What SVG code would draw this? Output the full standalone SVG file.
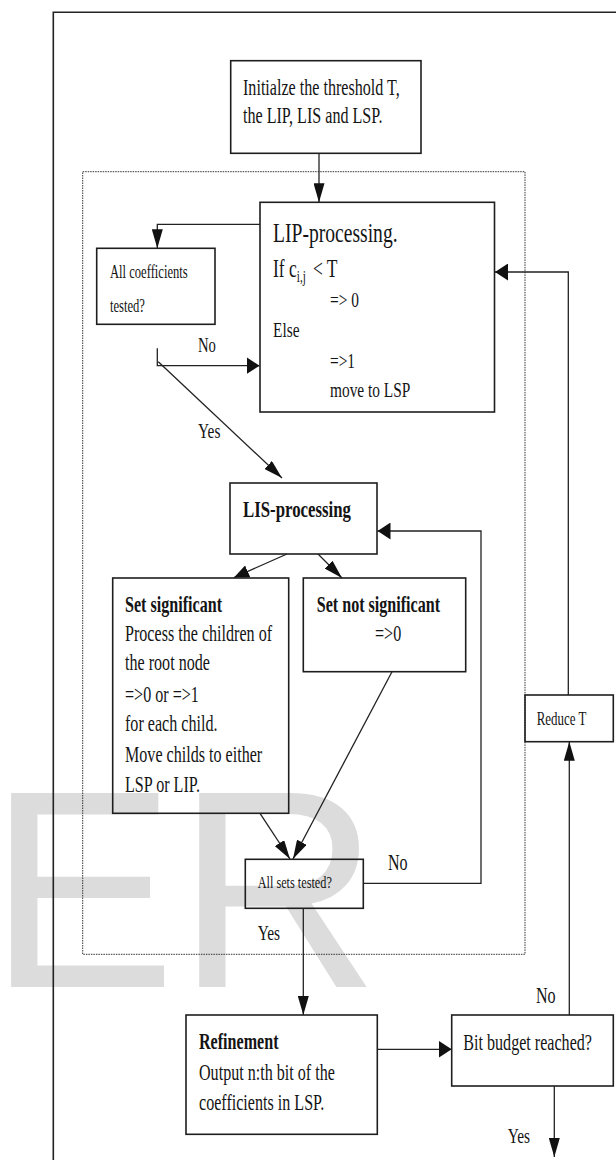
<svg xmlns="http://www.w3.org/2000/svg" width="616" height="1160" viewBox="0 0 616 1160">
<style>
.box{fill:none;stroke:#1e1e1e;stroke-width:1.6}
.ln{fill:none;stroke:#222;stroke-width:1.3}
.t{font-family:"Liberation Serif","Times New Roman",serif;fill:#141414}
.b{font-weight:bold}
.wm{font-family:"Liberation Sans",Arial,sans-serif;font-size:282px;fill:#dcdcdc}
</style>
<defs>
<marker id="av" markerUnits="userSpaceOnUse" markerWidth="19" markerHeight="11" refX="19" refY="5.5" orient="auto" viewBox="0 0 19 11"><path d="M0,0 L19,5.5 L0,11 z" fill="#111"/></marker>
<marker id="ah" markerUnits="userSpaceOnUse" markerWidth="13" markerHeight="17" refX="13" refY="8.5" orient="auto" viewBox="0 0 13 17"><path d="M0,0 L13,8.5 L0,17 z" fill="#111"/></marker>
<marker id="ad" markerUnits="userSpaceOnUse" markerWidth="15" markerHeight="13" refX="15" refY="6.5" orient="auto" viewBox="0 0 15 13"><path d="M0,0 L15,6.5 L0,13 z" fill="#111"/></marker>
</defs>
<rect width="616" height="1160" fill="#fff"/>
<text class="wm" x="-12" y="987">ER</text>
<g id="frame">
<path d="M53.3,1160 V12.3 H616" fill="none" stroke="#222" stroke-width="1.6"/>
<rect x="82.7" y="171.7" width="442.3" height="782.6" fill="none" stroke="#333" stroke-width="1" stroke-dasharray="1.5 1"/>
</g>
<g id="init">
<rect class="box" x="230.7" y="60.7" width="190.3" height="92.6"/>
<text class="t" font-size="23" transform="translate(243,95) scale(0.7,1)"><tspan x="0">Initialze the threshold T,</tspan><tspan x="0" dy="28">the LIP, LIS and LSP.</tspan></text>
</g>
<g id="lip">
<rect class="box" x="260" y="202.3" width="234.5" height="209.7"/>
<text class="t" font-size="28" transform="translate(273,242) scale(0.7,1)"><tspan x="0">LIP-processing.</tspan><tspan x="0" dy="35" font-size="25">If c</tspan><tspan font-size="16" dy="5">i,j</tspan><tspan x="57" dy="-5" font-size="25">&lt; T</tspan><tspan x="81.4" dy="30" font-size="22">=&gt; 0</tspan><tspan x="0" dy="30" font-size="22">Else</tspan><tspan x="81.4" dy="31" font-size="22">=&gt;1</tspan><tspan x="81.4" dy="29" font-size="22">move to LSP</tspan></text>
</g>
<g id="allcoef">
<rect class="box" x="96.7" y="248.3" width="118.3" height="76"/>
<text class="t" font-size="18" transform="translate(110,278) scale(0.7,1)"><tspan x="0">All coefficients</tspan><tspan x="0" dy="34">tested?</tspan></text>
</g>
<g id="lis">
<rect class="box" x="230" y="483" width="147" height="71"/>
<text class="t b" font-size="24" transform="translate(243,517) scale(0.7,1)">LIS-processing</text>
</g>
<g id="setsig">
<rect class="box" x="112.7" y="578" width="176" height="235.3"/>
<text class="t" font-size="23" transform="translate(125,611.7) scale(0.7,1)"><tspan x="0" class="b">Set significant</tspan><tspan x="0" dy="29.3">Process the children of</tspan><tspan x="0" dy="29">the root node</tspan><tspan x="0" dy="31.7">=&gt;0 or =&gt;1</tspan><tspan x="0" dy="29.5">for each child.</tspan><tspan x="0" dy="30.8">Move childs to either</tspan><tspan x="0" dy="30">LSP or LIP.</tspan></text>
</g>
<g id="setnotsig">
<rect class="box" x="303.3" y="578" width="162.4" height="93.7"/>
<text class="t" font-size="23" transform="translate(316.7,611.7) scale(0.7,1)"><tspan x="0" class="b">Set not significant</tspan><tspan x="83.3" dy="29.3">=&gt;0</tspan></text>
</g>
<g id="allsets">
<rect class="box" x="245.3" y="859.3" width="118" height="49"/>
<text class="t" font-size="17.5" transform="translate(257.7,888) scale(0.7,1)">All sets tested?</text>
</g>
<g id="refinement">
<rect class="box" x="186" y="1015" width="191.3" height="119.3"/>
<text class="t" font-size="23" transform="translate(199,1049) scale(0.7,1)"><tspan x="0" class="b">Refinement</tspan><tspan x="0" dy="31">Output n:th bit of the</tspan><tspan x="0" dy="30">coefficients in LSP.</tspan></text>
</g>
<g id="bitbudget">
<rect class="box" x="451.7" y="1015" width="161.6" height="71"/>
<text class="t" font-size="23" transform="translate(463.3,1050) scale(0.7,1)">Bit budget reached?</text>
</g>
<g id="reduceT">
<rect class="box" x="525" y="695" width="88.3" height="46.7"/>
<text class="t" font-size="18.5" transform="translate(536.7,725) scale(0.7,1)">Reduce T</text>
</g>
<g id="connectors">
<path class="ln" d="M319,153.3 V202.3" marker-end="url(#av)"/>
<path class="ln" d="M260,224.3 H157.3 V248.3" marker-end="url(#av)"/>
<path class="ln" d="M157.3,348.3 V365.7 H259.5" marker-end="url(#ah)"/>
<path class="ln" d="M158.3,361.7 L282,478" marker-end="url(#av)"/>
<path class="ln" d="M287,554 L234,577.5" marker-end="url(#ad)"/>
<path class="ln" d="M318,554 L342,578" marker-end="url(#av)"/>
<path class="ln" d="M260,813.3 L290,859" marker-end="url(#av)"/>
<path class="ln" d="M392,671.7 L293,859" marker-end="url(#av)"/>
<path class="ln" d="M363.3,883.3 H481 V531 H377.5" marker-end="url(#ah)"/>
<path class="ln" d="M303.3,908.3 V1015" marker-end="url(#av)"/>
<path class="ln" d="M377.3,1049.3 H451.7" marker-end="url(#ah)"/>
<path class="ln" d="M569.3,1015 V741.7" marker-end="url(#av)"/>
<path class="ln" d="M568.3,695 V272 H495" marker-end="url(#ah)"/>
<path class="ln" d="M554.3,1086 V1157" marker-end="url(#av)"/>
<text class="t" font-size="21" transform="translate(198,352) scale(0.7,1)">No</text>
<text class="t" font-size="22" transform="translate(198,438) scale(0.7,1)">Yes</text>
<text class="t" font-size="23" transform="translate(388,870) scale(0.7,1)">No</text>
<text class="t" font-size="22" transform="translate(257.7,940) scale(0.7,1)">Yes</text>
<text class="t" font-size="23" transform="translate(536,1003) scale(0.7,1)">No</text>
<text class="t" font-size="22" transform="translate(507.7,1143) scale(0.7,1)">Yes</text>
</g>
</svg>
